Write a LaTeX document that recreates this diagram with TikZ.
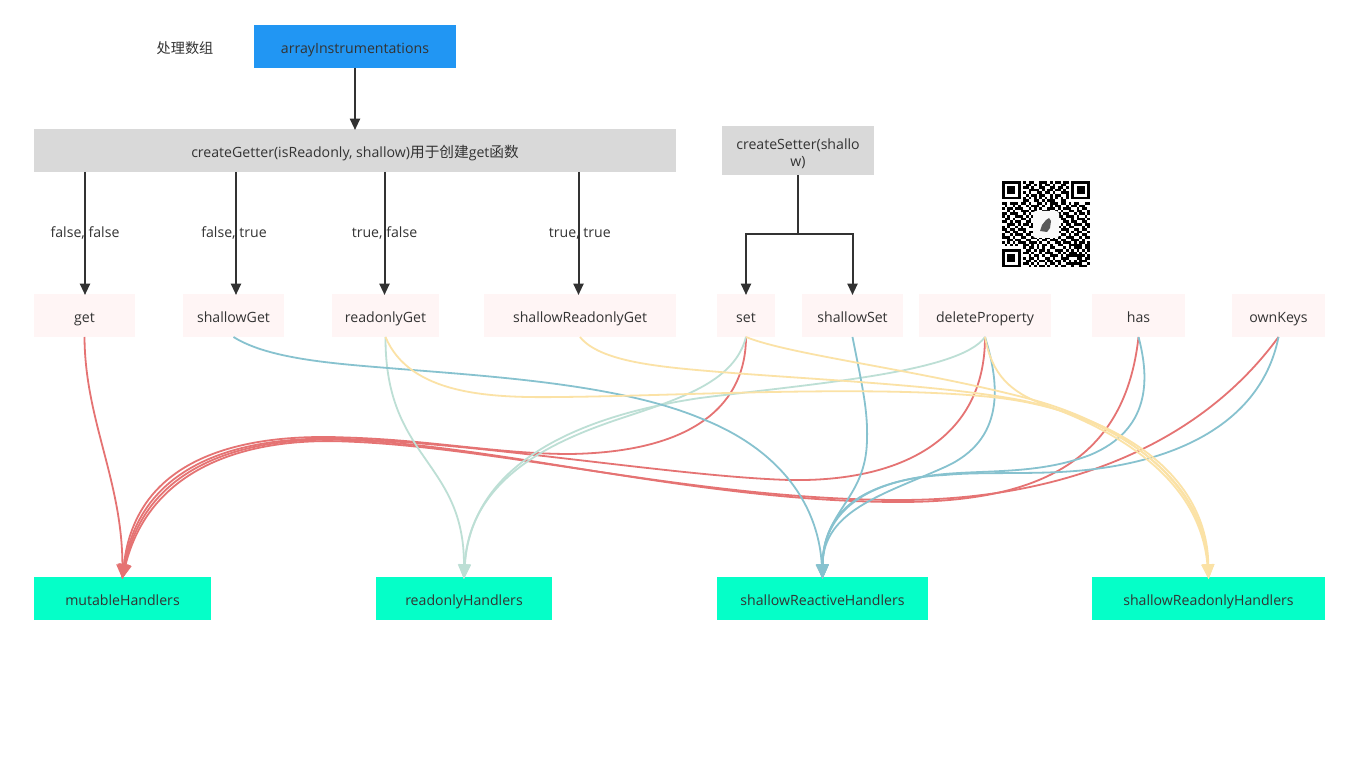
\documentclass[tikz,border=0pt]{standalone}
\usepackage{fontspec}
\setmainfont{Open Sans}
\newfontfamily\cjk{Noto Sans CJK SC}
\usetikzlibrary{arrows.meta}
\definecolor{txt}{HTML}{333333}
\definecolor{ink}{HTML}{323232}
\definecolor{pinkf}{HTML}{FFF5F5}
\definecolor{tealf}{HTML}{05FFC8}
\definecolor{bluef}{HTML}{2196F3}
\definecolor{greyf}{HTML}{D9D9D9}
\definecolor{cred}{HTML}{E57373}
\definecolor{cblue}{HTML}{87C2CF}
\definecolor{cgreen}{HTML}{BDDFD5}
\definecolor{cyellow}{HTML}{FBE2A6}
\tikzset{
  x=0.75pt,y=-0.75pt,
  wh/.style 2 args={minimum width=#1*0.75pt,minimum height=#2*0.75pt},
  box/.style={inner sep=0pt,outer sep=0pt,text=txt,font=\fontsize{10.6pt}{12.7pt}\selectfont,align=center},
  ln/.style={box,text height=11pt,text depth=1.2pt},
  pinkbox/.style={ln,fill=pinkf},
  tealbox/.style={ln,fill=tealf},
  greybox/.style={ln,fill=greyf},
  bluebox/.style={ln,fill=bluef},
  plain/.style={ln},
  blk/.style={draw=ink,line width=1.5pt,-{Triangle[length=8.5pt,width=7.5pt]},shorten >=-0.75pt},
  blkline/.style={draw=ink,line width=1.5pt},
  cur/.style={line width=1.35pt,-{Triangle[length=11pt,width=9pt]},shorten >=-1.5pt},
  rd/.style={cur,draw=cred,cred},
  bl/.style={cur,draw=cblue,cblue},
  gr/.style={cur,draw=cgreen,cgreen},
  yl/.style={cur,draw=cyellow,cyellow},
}
\newcount\qrx
\newcount\qry
\def\qrparse#1{\ifx#1\relax\else
  \if#11\fill[black] ({1002+\the\qrx*2.67},{181+\the\qry*2.62}) rectangle ({1002+(\the\qrx+1)*2.67},{181+(\the\qry+1)*2.62});\fi
  \global\advance\qrx by 1
  \expandafter\qrparse\fi}
\begin{document}
\begin{tikzpicture}
\useasboundingbox[fill=white] (0,0) rectangle (1350,773);
% nodes
\node[plain] (note) at (185,46.5) {\cjk 处理数组};
\node[bluebox,wh={202}{43}] (arr) at (355,46.5) {arrayInstrumentations};
\node[greybox,wh={642}{43}] (getter) at (355,150.5) {createGetter(isReadonly, shallow){\cjk\fontsize{11pt}{12.7pt}\selectfont 用于创建}get{\cjk\fontsize{11pt}{12.7pt}\selectfont 函数}};
\node[box,fill=greyf,wh={152}{49}] (setter) at (798,150.5) {\rule{0pt}{13pt}createSetter(shallo\\w)};
\node[pinkbox,wh={101}{43}] (get) at (84.5,315.5) {get};
\node[pinkbox,wh={101}{43}] (sget) at (233.5,315.5) {shallowGet};
\node[pinkbox,wh={107}{43}] (rget) at (385.5,315.5) {readonlyGet};
\node[pinkbox,wh={192}{43}] (srget) at (580,315.5) {shallowReadonlyGet};
\node[pinkbox,wh={58}{43}] (set) at (746,315.5) {set};
\node[pinkbox,wh={101}{43}] (sset) at (852.5,315.5) {shallowSet};
\node[pinkbox,wh={132}{43}] (del) at (985,315.5) {deleteProperty};
\node[pinkbox,wh={93}{43}] (has) at (1138.5,315.5) {has};
\node[pinkbox,wh={93}{43}] (own) at (1278.5,315.5) {ownKeys};
\node[tealbox,wh={177}{43}] (mut) at (122.5,598.5) {mutableHandlers};
\node[tealbox,wh={176}{43}] (ro) at (464,598.5) {readonlyHandlers};
\node[tealbox,wh={211}{43}] (sr) at (822.5,598.5) {shallowReactiveHandlers};
\node[tealbox,wh={233}{43}] (sro) at (1208.5,598.5) {shallowReadonlyHandlers};
% QR code
\global\qry=0
\foreach \r in {
1111111 0 10110011101011011 0 1111111,
1000001 0 01101010110100110 0 1000001,
1011101 0 11010011001101101 0 1011101,
1011101 0 00111101011011010 0 1011101,
1011101 0 10100110110100111 0 1011101,
1000001 0 01011011001011001 0 1000001,
1111111 0 10101010101010101 0 1111111,
00000000 11001101011100110 00000000,
11011101101 00110101110 11010110011,
01001010010 11101001011 00101101100,
10110111001 01010011101 01110010110,
00101001110 11001110010 10011011001,
11011100101 00110000011 01100101101,
10100111010 11000000001 10111010010,
01101001101 01000000000 11001011101,
11010110011 00000000000 01101100110,
00111010110 10000000000 10110111011,
10100101001 10000000001 01011000101,
11011011100 01000000010 11100110110,
01101100101 10100000101 00101011001,
10010111011 01011011010 11010110110,
11101001100 11010110101 00111001011,
00110110011 00101101110 11001110100,
10101011101 11010010011 01110101101,
01010100110 10101101001 10011111011,
00000000 10110101001 10001010111 011,
1111111 0 01101011010 01110101010 101,
1000001 0 11010010111 00101011101 010,
1011101 0 00101101001 11010111111 101,
1011101 0 10110100110 10011100011 011,
1011101 0 01101011011 01101010101 110,
1000001 0 11010100101 10100111111 001,
1111111 0 00101011010 01011001001 110}{
  \global\qrx=0
  \expandafter\qrparse\r\relax
  \global\advance\qry by 1
}
\fill[white!95!gray,rounded corners=2pt] (1033,211) rectangle (1059,238);
\fill[gray!70!black] (1040,231) -- (1042,225) -- (1046,220) -- (1049,218) -- (1051,221) -- (1050,228) -- (1047,232) -- cycle;
% black arrows
\draw[blk] (arr.south) -- (getter.north);
\coordinate (g1) at (85,172);
\coordinate (g2) at (236,172);
\coordinate (g3) at (384.5,172);
\coordinate (g4) at (578.5,172);
\draw[blk] (g1) -- (g1 |- get.north) node[pos=0.485,plain] (l1) {false, false};
\draw[blk] (g2) -- (g2 |- sget.north) node[pos=0.485,plain,xshift=-1.5pt] (l2) {false, true};
\draw[blk] (g3) -- (g3 |- rget.north) node[pos=0.485,plain] (l3) {true, false};
\draw[blk] (g4) -- (g4 |- srget.north) node[pos=0.485,plain,xshift=1pt] (l4) {true, true};
\coordinate (sp1) at (798,234.5);
\draw[blkline] (setter.south) -- (sp1);
\draw[blk] (sp1) -| (set.north);
\draw[blk] (sp1) -| (sset.north);
% to mutableHandlers
\draw[rd] (get.south) .. controls (85,420) and (122,480) .. (mut.north);
\draw[rd] (set.south) .. controls (746,400) and (700,452) .. (570,454) .. controls (500,454) and (430,440) .. (346,437.5) .. controls (240,433) and (136,458) .. (mut.north);
\draw[rd] (del.south) .. controls (985,440) and (900,482) .. (790,480) .. controls (680,477) and (480,443) .. (346,439) .. controls (240,435) and (141,463) .. (mut.north);
\draw[rd] (has.south) .. controls (1125,460) and (1040,502) .. (900,502) .. controls (700,502) and (500,445) .. (346,440) .. controls (240,436) and (145,467) .. (mut.north);
\draw[rd] (own.south) .. controls (1190,458) and (1040,500) .. (900,500) .. controls (700,500) and (500,447) .. (346,441.5) .. controls (240,437) and (149,471) .. (mut.north);
% to readonlyHandlers
\draw[gr] (rget.south) .. controls (385,460) and (464,460) .. (ro.north);
\draw[gr] (set.south) .. controls (735,380) and (685,397) .. (631,415) .. controls (570,435) and (470,470) .. (ro.north);
\draw[gr] (del.south) .. controls (960,372) and (820,383) .. (700,398) .. controls (585,415) and (472,460) .. (ro.north);
% to shallowReactiveHandlers
\draw[bl] (sget.south) .. controls (270,360) and (340,364) .. (400,369) .. controls (500,377) and (620,385) .. (700,418) .. controls (775,447) and (818,500) .. (sr.north);
\draw[bl] (sset.south) .. controls (862,385) and (868,410) .. (867,440) .. controls (866,500) and (823,510) .. (sr.north);
\draw[bl] (del.south) .. controls (1000,385) and (1005,440) .. (945,467) .. controls (885,494) and (823,510) .. (sr.north);
\draw[bl] (has.south) .. controls (1150,380) and (1150,430) .. (1090,455) .. controls (1040,474) and (990,470) .. (945,474) .. controls (880,480) and (823,500) .. (sr.north);
\draw[bl] (own.south) .. controls (1262,420) and (1180,466) .. (1060,472) .. controls (1020,474) and (975,472) .. (945,475) .. controls (878,478) and (823,505) .. (sr.north);
% to shallowReadonlyHandlers
\draw[yl] (rget.south) .. controls (410,395) and (490,398) .. (560,397) .. controls (680,396) and (880,384) .. (1000,398) .. controls (1110,412) and (1207,470) .. (sro.north);
\draw[yl] (srget.south) .. controls (600,362) and (660,367) .. (720,372) .. controls (820,380) and (940,385) .. (1020,400) .. controls (1110,418) and (1205,475) .. (sro.north);
\draw[yl] (set.south) .. controls (790,355) and (920,370) .. (1030,399) .. controls (1120,423) and (1203,480) .. (sro.north);
\draw[yl] (del.south) .. controls (992,375) and (1010,392) .. (1045,405) .. controls (1120,432) and (1200,480) .. (sro.north);
\end{tikzpicture}
\end{document}
